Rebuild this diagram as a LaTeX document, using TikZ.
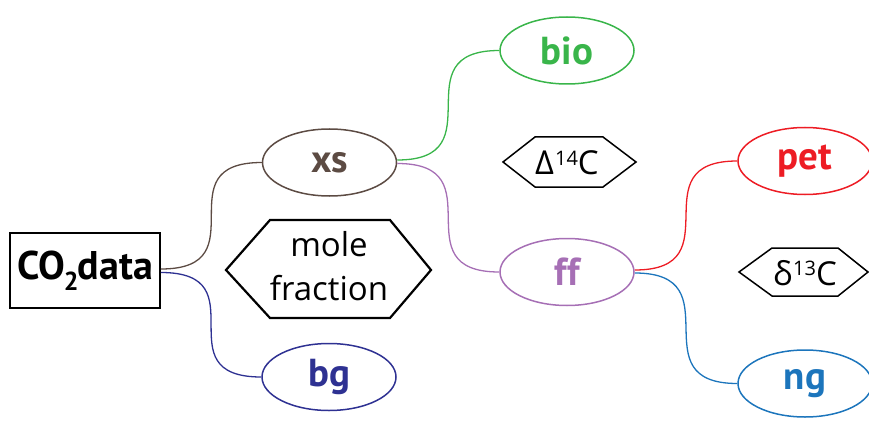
\documentclass[tikz,border=0pt]{standalone}
\usepackage{fontspec}
\setmainfont{PT Sans}
\newfontfamily\grk{Open Sans}
\usetikzlibrary{shapes.geometric}
\definecolor{cbrown}{HTML}{5C4B43}
\definecolor{cgreen}{HTML}{39B54A}
\definecolor{cpurple}{HTML}{A66FB5}
\definecolor{cred}{HTML}{ED1C24}
\definecolor{cblue}{HTML}{1C75BC}
\definecolor{cdblue}{HTML}{2E3192}
\tikzset{
  ell/.style={ellipse, draw, line width=1.5pt, minimum width=134pt, minimum height=67pt,
    inner sep=0pt, font=\fontsize{39}{40}\selectfont\bfseries},
  hexbig/.style={draw, line width=2.2pt, line join=miter},
  hexsmall/.style={draw, line width=1.5pt, line join=miter},
  conn/.style={line width=1.3pt, out=0, in=180, distance=100pt},
  lbl/.style={inner sep=0pt, align=center},
}
\begin{document}
\begin{tikzpicture}[x=1pt,y=-1pt]
\useasboundingbox (0,0) rectangle (869,422);
% root box
\node[draw, line width=1.8pt, minimum width=150pt, minimum height=75pt, inner sep=0pt] (co) at (85,270.5)
  {\fontsize{40}{44}\selectfont\bfseries CO\kern-1pt\raisebox{-0.28em}{\fontsize{26}{26}\selectfont 2}\kern-1pt data};
% ellipses
\node[ell, draw=cbrown, text=cbrown] (xs) at (329.5,162.5) {xs};
\node[ell, draw=cgreen, text=cgreen] (bio) at (567,50.5) {bio};
\node[ell, draw=cpurple, text=cpurple] (ff) at (567,272) {ff};
\node[ell, draw=cred, text=cred] (pet) at (805,161) {pet};
\node[ell, draw=cblue, text=cblue] (ng) at (805,383.5) {ng};
\node[ell, draw=cdblue, text=cdblue] (bg) at (329,377) {bg};
% hexagon labels
\node[lbl, font=\grk\fontsize{33}{44}\selectfont] (mf) at (329,266) {mole\\fraction};
\draw[hexbig] (226,270) -- (270,220) -- (390,220) -- (431,270) -- (390,318) -- (270,318) -- cycle;
\node[lbl, font=\grk\fontsize{33}{36}\selectfont] (d14) at (567,163) {Δ\kern1pt\raisebox{0.3em}{\fontsize{20}{20}\selectfont 14}C};
\draw[hexsmall] (503,162) -- (535,137) -- (603,137) -- (636,162) -- (603,187) -- (535,187) -- cycle;
\node[lbl, font=\grk\fontsize{33}{36}\selectfont] (d13) at (805,273) {δ\kern1pt\raisebox{0.3em}{\fontsize{20}{20}\selectfont 13}C};
\draw[hexsmall] (739,272) -- (772,248) -- (838,248) -- (868,272) -- (838,296) -- (772,296) -- cycle;
% connectors
\draw[conn, cbrown] ([yshift=1.5pt]co.east) to (xs.west);
\draw[conn, cdblue] ([yshift=-2pt]co.east) to (bg.west);
\draw[conn, cgreen] ([yshift=2.5pt]xs.east) to (bio.west);
\draw[conn, cpurple] ([yshift=-1pt]xs.east) to (ff.west);
\draw[conn, cred] ([yshift=2pt]ff.east) to (pet.west);
\draw[conn, cblue] ([yshift=-1pt]ff.east) to (ng.west);
\end{tikzpicture}
\end{document}
